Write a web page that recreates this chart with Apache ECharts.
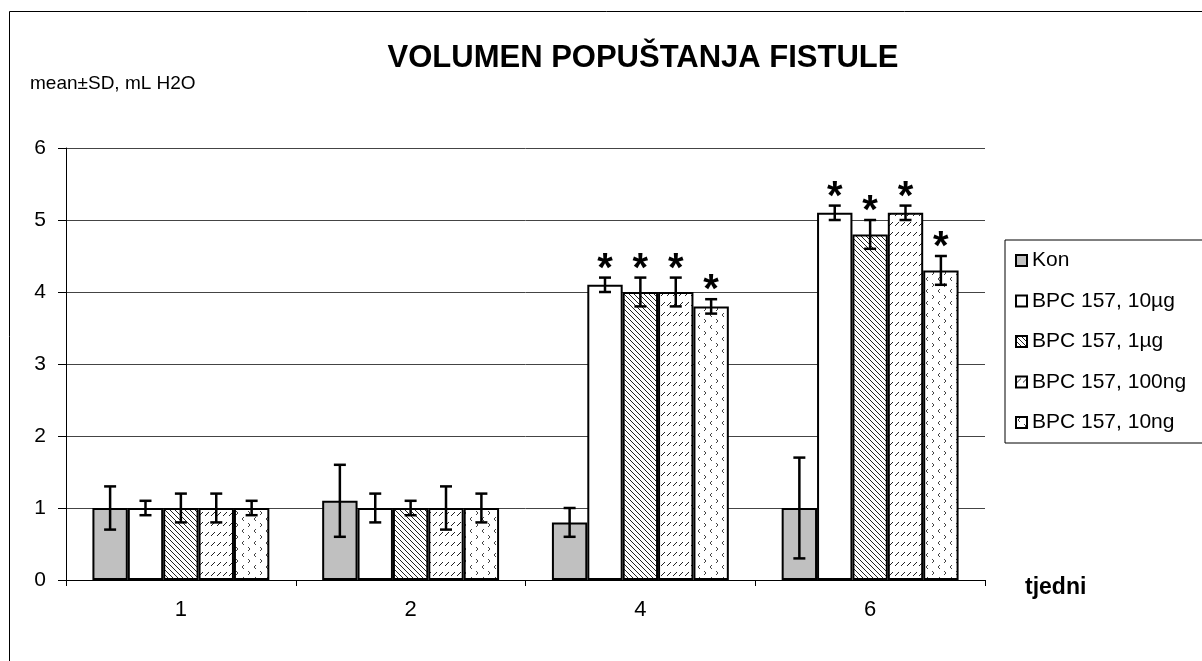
<!DOCTYPE html>
<html><head><meta charset="utf-8">
<script src="https://cdn.jsdelivr.net/npm/echarts@6/dist/echarts.min.js"></script>
<style>html,body{margin:0;padding:0;background:#fff}#c{width:1202px;height:661px}</style>
</head><body><div id="c"></div>
<script>
var categories = ['1','2','4','6'];
var seriesNames = ['Kon','BPC 157, 10\u00b5g','BPC 157, 1\u00b5g','BPC 157, 100ng','BPC 157, 10ng'];
var konMean = [1.0, 1.1, 0.8, 1.0];
var konSD   = [0.3, 0.5, 0.2, 0.7];
var ug10Mean = [1.0, 1.0, 4.1, 5.1];
var ug10SD   = [0.1, 0.2, 0.1, 0.1];
var ug1Mean = [1.0, 1.0, 4.0, 4.8];
var ug1SD   = [0.2, 0.1, 0.2, 0.2];
var ng100Mean = [1.0, 1.0, 4.0, 5.1];
var ng100SD   = [0.2, 0.3, 0.2, 0.1];
var ng10Mean = [1.0, 1.0, 3.8, 4.3];
var ng10SD   = [0.1, 0.2, 0.1, 0.2];
var konStar = [false, false, false, false];
var ug10Star = [false, false, true, true];
var ug1Star = [false, false, true, true];
var ng100Star = [false, false, true, true];
var ng10Star = [false, false, true, true];
var yTicks = [0,1,2,3,4,5,6];

var means = [konMean, ug10Mean, ug1Mean, ng100Mean, ng10Mean];
var sds = [konSD, ug10SD, ug1SD, ng100SD, ng10SD];
var stars = [konStar, ug10Star, ug1Star, ng100Star, ng10Star];

function mk(w,h,draw){var c=document.createElement('canvas');c.width=w;c.height=h;var x=c.getContext('2d');x.fillStyle='#fff';x.fillRect(0,0,w,h);draw(x);return c;}
var patDiag = mk(5,5,function(x){x.strokeStyle='#222';x.lineWidth=1;x.beginPath();for(var k=-5;k<=5;k+=5){x.moveTo(k,0);x.lineTo(k+5,5);}x.stroke();});
var patDash = mk(6,10,function(x){x.strokeStyle='#222';x.lineWidth=1;x.beginPath();x.moveTo(1,6);x.lineTo(5,2);x.stroke();});
var patDot = mk(12,12,function(x){x.strokeStyle='#444';x.lineWidth=1;x.beginPath();x.moveTo(4,1);x.lineTo(2,3);x.lineTo(4,5);x.moveTo(8,7);x.lineTo(10,9);x.lineTo(8,11);x.stroke();});
var fills = ['#c0c0c0', '#ffffff', {image:patDiag,repeat:'repeat'}, {image:patDash,repeat:'repeat'}, {image:patDot,repeat:'repeat'}];

var gapPct = 0.23;
var series = [];
for (var s=0;s<5;s++){
  series.push({name:seriesNames[s], type:'bar', data:means[s], barGap:'0%', barCategoryGap:(gapPct*100)+'%',
    itemStyle:{color:fills[s], borderColor:'#000', borderWidth:2}, emphasis:{disabled:true}, z:2});
}
var errData=[];
for (var s=0;s<5;s++) for (var c=0;c<4;c++) errData.push([c, means[s][c], sds[s][c], s, stars[s][c]?1:0]);
series.push({type:'custom', name:'err', data:errData, z:5, silent:true,
  renderItem:function(params, api){
    var c=api.value(0), m=api.value(1), sd=api.value(2), s=api.value(3), st=api.value(4);
    var cw=api.size([1,0])[0]; var bw=cw*(1-gapPct)/5;
    var center=api.coord([c,0])[0] + (s-2)*bw;
    var top=api.coord([c,m+sd])[1], bot=api.coord([c,m-sd])[1];
    var cap=6;
    var st0={stroke:'#000', lineWidth:2.5};
    var ch=[
      {type:'line', shape:{x1:center,y1:top,x2:center,y2:bot}, style:st0},
      {type:'line', shape:{x1:center-cap,y1:top,x2:center+cap,y2:top}, style:st0},
      {type:'line', shape:{x1:center-cap,y1:bot,x2:center+cap,y2:bot}, style:st0}
    ];
    if(st){ch.push({type:'text', style:{text:'*', x:center, y:top-28, align:'center', verticalAlign:'top', font:'bold 40px Liberation Sans, Arial', fill:'#000'}});}
    return {type:'group', children:ch};
  }});

var chart = echarts.init(document.getElementById('c'));
chart.setOption({
  animation:false,
  backgroundColor:'#fff',
  textStyle:{fontFamily:'Liberation Sans, Arial'},
  title:{text:'VOLUMEN POPUŠTANJA FISTULE', left:638, top:38, textAlign:'center',
    textStyle:{fontSize:31, fontWeight:'bold', color:'#000', fontFamily:'Liberation Sans, Arial'}},
  graphic:[
    {type:'rect', shape:{x:9.5,y:11.5,width:1200,height:660}, style:{fill:'none', stroke:'#000', lineWidth:1}, silent:true},
    {type:'text', left:30, top:74, style:{text:'mean\u00b1SD, mL H2O', font:'19px Liberation Sans, Arial', fill:'#000'}},
    {type:'text', left:1025, top:576, style:{text:'tjedni', font:'bold 23px Liberation Sans, Arial', fill:'#000'}}
  ],
  legend:{orient:'vertical', left:1005, top:240, data:seriesNames, itemWidth:11, itemHeight:11, itemGap:19.5, icon:'rect',
    borderColor:'#000', borderWidth:1, padding:[10,60,10,10], selectedMode:false,
    itemStyle:{borderColor:'#000', borderWidth:2},
    textStyle:{fontSize:21, color:'#000', fontFamily:'Liberation Sans, Arial'}},
  grid:{left:66, right:217, top:148, bottom:81, containLabel:false},
  xAxis:{type:'category', data:categories,
    axisLine:{lineStyle:{color:'#000', width:1}}, axisTick:{show:true, length:6, lineStyle:{color:'#000'}},
    axisLabel:{fontSize:22, color:'#000', margin:19}},
  yAxis:{type:'value', min:0, max:6, interval:1,
    axisLine:{show:true, lineStyle:{color:'#000'}}, axisTick:{show:true, length:8, lineStyle:{color:'#000'}},
    axisLabel:{fontSize:21, color:'#000', margin:20},
    splitLine:{lineStyle:{color:'#444', width:1}}},
  series:series
});
</script></body></html>
